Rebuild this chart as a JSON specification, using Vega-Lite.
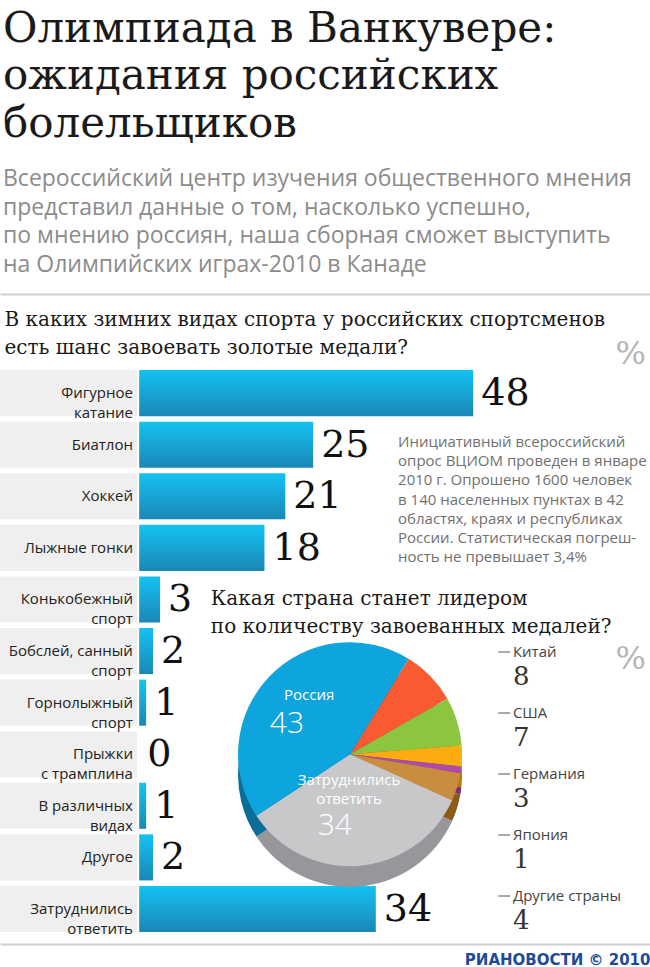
{
  "$schema": "https://vega.github.io/schema/vega-lite/v6.json",
  "width": 650,
  "height": 967,
  "autosize": {"type": "fit", "contains": "padding"},
  "padding": {"top": 7, "left": 0, "right": 0, "bottom": 0},
  "background": "white",
  "config": {"view": {"stroke": null}},
  "title": {
    "text": ["Олимпиада в Ванкувере:", "ожидания российских", "болельщиков"],
    "subtitle": ["Всероссийский центр изучения общественного мнения", "представил данные о том, насколько успешно,", "по мнению россиян, наша сборная сможет выступить", "на Олимпийских играх-2010 в Канаде"],
    "anchor": "start",
    "frame": "group",
    "dx": 3,
    "font": "DejaVu Serif",
    "fontSize": 42,
    "fontWeight": "normal",
    "lineHeight": 47.5,
    "color": "#1a1a1a",
    "subtitleFont": "Open Sans",
    "subtitleFontSize": 23,
    "subtitleLineHeight": 28.7,
    "subtitleColor": "#8c8c8c",
    "subtitlePadding": 22,
    "offset": 16
  },
  "datasets": {
    "sports": [
      {"sport": "Фигурное|катание", "value": 48},
      {"sport": "Биатлон", "value": 25},
      {"sport": "Хоккей", "value": 21},
      {"sport": "Лыжные гонки", "value": 18},
      {"sport": "Конькобежный|спорт", "value": 3},
      {"sport": "Бобслей, санный|спорт", "value": 2},
      {"sport": "Горнолыжный|спорт", "value": 1},
      {"sport": "Прыжки|с трамплина", "value": 0},
      {"sport": "В различных|видах", "value": 1},
      {"sport": "Другое", "value": 2},
      {"sport": "Затруднились|ответить", "value": 34}
    ],
    "countries": [
      {"country": "Китай", "value": 8, "ord": 1},
      {"country": "США", "value": 7, "ord": 2},
      {"country": "Германия", "value": 3, "ord": 3},
      {"country": "Япония", "value": 1, "ord": 4},
      {"country": "Другие страны", "value": 4, "ord": 5},
      {"country": "Затруднились|ответить", "value": 34, "ord": 6},
      {"country": "Россия", "value": 43, "ord": 7}
    ]
  },
  "resolve": {"scale": {"y": "independent"}, "axis": {"x": "independent"}},
  "layer": [
    {
      "data": {"name": "sports"},
      "resolve": {"axis": {"x": "independent"}},
      "layer": [
        {
          "mark": {"type": "bar", "color": "#efefef"},
          "encoding": {
            "x": {"datum": -20, "type": "quantitative", "scale": {"domain": [-20, 73.4], "nice": false, "zero": false},
              "axis": {"orient": "top", "domain": true, "domainColor": "#cfcfcf", "domainWidth": 2, "ticks": false, "labels": false, "grid": false,
                "title": ["В каких зимних видах спорта у российских спортсменов", "есть шанс завоевать золотые медали?"],
                "titleFont": "DejaVu Serif", "titleFontSize": 20, "titleFontWeight": "normal", "titleColor": "#1a1a1a",
                "titleAnchor": "start", "titleAlign": "left", "titleBaseline": "alphabetic", "titleX": 4, "titleY": 31, "titleLineHeight": 28}},
            "x2": {"datum": -0.3},
            "y": {"field": "sport", "type": "nominal", "sort": null, "axis": null,
              "scale": {"paddingInner": 0.107, "paddingOuter": 0.767, "align": 0.962}}
          }
        },
        {
          "mark": {"type": "bar", "color": {"gradient": "linear", "x1": 0, "y1": 0, "x2": 0, "y2": 1,
            "stops": [{"offset": 0, "color": "#13c2f2"}, {"offset": 1, "color": "#1b87b6"}]}},
          "encoding": {
            "x": {"field": "value", "type": "quantitative", "scale": {"domain": [-20, 73.4], "nice": false, "zero": false},
              "axis": {"orient": "bottom", "offset": 9, "domain": true, "domainColor": "#cfcfcf", "domainWidth": 2, "ticks": false, "labels": false, "grid": false,
                "title": "РИАНОВОСТИ © 2010", "titleAnchor": "end", "titleAlign": "right", "titleFont": "DejaVu Sans", "titleFontWeight": "bold",
                "titleFontSize": 15, "titleColor": "#1f4b96", "titlePadding": 8}},
            "y": {"field": "sport", "type": "nominal", "sort": null, "axis": null}
          }
        },
        {
          "mark": {"type": "text", "align": "left", "baseline": "middle", "dx": 8, "dy": 1, "font": "DejaVu Serif", "fontSize": 38, "color": "#111111"},
          "encoding": {
            "x": {"field": "value", "type": "quantitative", "axis": null},
            "y": {"field": "sport", "type": "nominal", "sort": null, "axis": null},
            "text": {"field": "value", "type": "quantitative"}
          }
        },
        {
          "mark": {"type": "text", "align": "right", "baseline": "middle", "lineBreak": "|", "font": "Open Sans", "fontSize": 15, "lineHeight": 20, "color": "#222222"},
          "encoding": {
            "x": {"datum": -0.9, "type": "quantitative", "axis": null},
            "y": {"field": "sport", "type": "nominal", "sort": null, "axis": null},
            "text": {"field": "sport", "type": "nominal"}
          }
        },
        {
          "data": {"values": [{"note": "Инициативный всероссийский|опрос ВЦИОМ проведен в январе|2010 г. Опрошено 1600 человек|в 140 населенных пунктах в 42|областях, краях и республиках|России. Статистическая погреш-|ность не превышает 3,4%"}]},
          "mark": {"type": "text", "align": "left", "baseline": "alphabetic", "lineBreak": "|", "font": "Open Sans", "fontSize": 15, "lineHeight": 19.2, "color": "#707070"},
          "encoding": {
            "x": {"datum": 37.2, "type": "quantitative", "axis": null},
            "y": {"datum": "Биатлон", "type": "nominal", "bandPosition": 0.55, "axis": null},
            "text": {"field": "note", "type": "nominal"}
          }
        },
        {
          "data": {"values": [{"q": "Какая страна станет лидером|по количеству завоеванных медалей?"}]},
          "mark": {"type": "text", "align": "left", "baseline": "alphabetic", "lineBreak": "|", "font": "DejaVu Serif", "fontSize": 20, "lineHeight": 28, "color": "#1a1a1a"},
          "encoding": {
            "x": {"datum": 10.3, "type": "quantitative", "axis": null},
            "y": {"datum": "Конькобежный|спорт", "type": "nominal", "bandPosition": 0.63, "axis": null},
            "text": {"field": "q", "type": "nominal"}
          }
        },
        {
          "data": {"values": [{"p": "%"}]},
          "mark": {"type": "text", "align": "right", "baseline": "alphabetic", "dy": -6, "font": "DejaVu Serif", "fontSize": 32, "color": "#b4b4b4"},
          "encoding": {
            "x": {"datum": 72.8, "type": "quantitative", "axis": null},
            "y": {"datum": "Фигурное|катание", "type": "nominal", "bandPosition": 0, "axis": null},
            "text": {"field": "p", "type": "nominal"}
          }
        },
        {
          "data": {"values": [{"p": "%"}]},
          "mark": {"type": "text", "align": "right", "baseline": "alphabetic", "font": "DejaVu Serif", "fontSize": 32, "color": "#b4b4b4"},
          "encoding": {
            "x": {"datum": 72.8, "type": "quantitative", "axis": null},
            "y": {"datum": "Бобслей, санный|спорт", "type": "nominal", "bandPosition": 0.9, "axis": null},
            "text": {"field": "p", "type": "nominal"}
          }
        },
        {
          "data": {"name": "countries"},
          "mark": {"type": "arc", "outerRadius": 112},
          "encoding": {
            "x": {"datum": 30.3, "type": "quantitative", "axis": null},
            "y": {"datum": "Прыжки|с трамплина", "type": "nominal", "bandPosition": 0.95, "axis": null},
            "theta": {"field": "value", "type": "quantitative", "stack": true, "scale": {"range": [0.55, 6.833]}},
            "order": {"field": "ord", "type": "quantitative"},
            "fill": {"field": "country", "type": "nominal", "legend": null,
              "scale": {"domain": ["Китай", "США", "Германия", "Япония", "Другие страны", "Затруднились|ответить", "Россия"],
                "range": ["#b8401f", "#5f8a2a", "#b87a08", "#7a2e75", "#8a5d1c", "#97979b", "#0a6e98"]}}
          }
        },
        {
          "data": {"name": "countries"},
          "mark": {"type": "arc", "outerRadius": 112},
          "encoding": {
            "x": {"datum": 30.3, "type": "quantitative", "axis": null},
            "y": {"datum": "Прыжки|с трамплина", "type": "nominal", "bandPosition": 0.5, "axis": null},
            "theta": {"field": "value", "type": "quantitative", "stack": true, "scale": {"range": [0.55, 6.833]}},
            "order": {"field": "ord", "type": "quantitative"},
            "color": {"field": "country", "type": "nominal", "legend": null,
              "scale": {"domain": ["Китай", "США", "Германия", "Япония", "Другие страны", "Затруднились|ответить", "Россия"],
                "range": ["#f95a32", "#8cc63e", "#fcab10", "#b04aa8", "#c98d40", "#c8c8ca", "#0ea5df"]}}
          }
        },
        {
          "data": {"name": "countries"},
          "mark": {"type": "text", "radius": 50, "align": "center", "baseline": "middle", "dy": -24, "dx": -5, "lineBreak": "|", "font": "Open Sans", "fontSize": 15, "lineHeight": 19, "color": "white"},
          "encoding": {
            "x": {"datum": 30.3, "type": "quantitative", "axis": null},
            "y": {"datum": "Прыжки|с трамплина", "type": "nominal", "bandPosition": 0.5, "axis": null},
            "theta": {"field": "value", "type": "quantitative", "stack": true, "scale": {"range": [0.55, 6.833]}},
            "order": {"field": "ord", "type": "quantitative"},
            "text": {"condition": {"test": "datum.value > 20", "field": "country"}, "value": ""}
          }
        },
        {
          "data": {"name": "countries"},
          "mark": {"type": "text", "radius": 60, "align": "center", "baseline": "middle", "dy": 12, "dx": -20, "font": "Open Sans", "fontWeight": 300, "fontSize": 30, "color": "white"},
          "encoding": {
            "x": {"datum": 30.3, "type": "quantitative", "axis": null},
            "y": {"datum": "Прыжки|с трамплина", "type": "nominal", "bandPosition": 0.5, "axis": null},
            "theta": {"field": "value", "type": "quantitative", "stack": true, "scale": {"range": [0.55, 6.833]}},
            "order": {"field": "ord", "type": "quantitative"},
            "text": {"condition": {"test": "datum.value > 20", "field": "value", "type": "quantitative"}, "value": ""}
          }
        }
      ]
    },
    {
      "data": {"name": "countries"},
      "transform": [{"filter": "datum.value < 20"}],
      "encoding": {
        "y": {"field": "country", "type": "nominal", "sort": null, "axis": null,
          "scale": {"type": "point", "padding": 0, "range": [358, 602]}}
      },
      "layer": [
        {
          "mark": {"type": "rule", "color": "#555555", "strokeWidth": 1},
          "encoding": {
            "x": {"datum": 51.6, "type": "quantitative", "axis": null},
            "x2": {"datum": 53.3}
          }
        },
        {
          "mark": {"type": "text", "align": "left", "baseline": "middle", "font": "Open Sans", "fontSize": 15, "color": "#444444"},
          "encoding": {
            "x": {"datum": 53.7, "type": "quantitative", "axis": null},
            "text": {"field": "country", "type": "nominal"}
          }
        },
        {
          "mark": {"type": "text", "align": "left", "baseline": "middle", "dy": 25, "font": "DejaVu Serif", "fontSize": 26, "color": "#333333"},
          "encoding": {
            "x": {"datum": 53.7, "type": "quantitative", "axis": null},
            "text": {"field": "value", "type": "quantitative"}
          }
        }
      ]
    }
  ]
}
